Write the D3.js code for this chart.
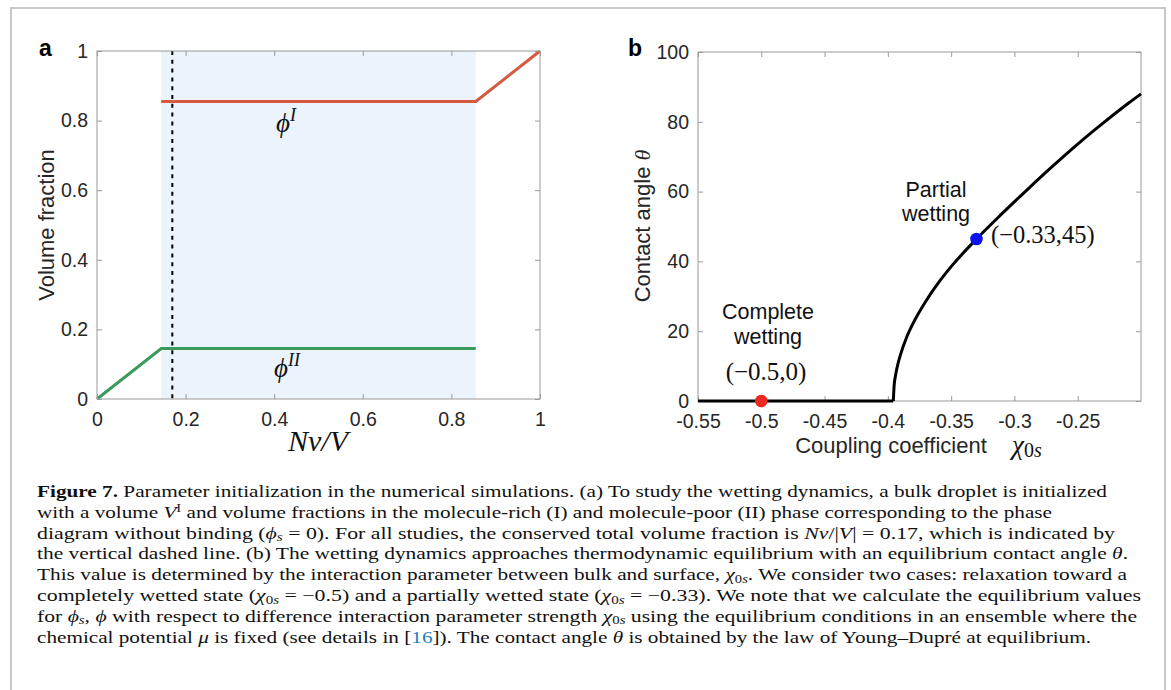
<!DOCTYPE html>
<html><head><meta charset="utf-8">
<script src="https://cdn.jsdelivr.net/npm/d3@7/dist/d3.min.js"></script>
<style>body{margin:0;background:#fff;} svg{display:block;}</style>
</head><body><svg id="c" width="1171" height="690"></svg>
<script>
// ---------- data: panel a ----------
const aTicks = [0, 0.2, 0.4, 0.6, 0.8, 1];
const aTickLabels = ["0", "0.2", "0.4", "0.6", "0.8", "1"];
const phiIx = [0.145, 0.855, 1];
const phiIy = [0.855, 0.855, 1];
const phiIIx = [0, 0.145, 0.855];
const phiIIy = [0, 0.145, 0.145];
const shadeRange = [0.145, 0.855];
const totalFraction = 0.17;

// ---------- data: panel b ----------
const bXTicks = [-0.55, -0.5, -0.45, -0.4, -0.35, -0.3, -0.25];
const bXTickLabels = ["-0.55", "-0.5", "-0.45", "-0.4", "-0.35", "-0.3", "-0.25"];
const bYTicks = [0, 20, 40, 60, 80, 100];
const chiFlat = [-0.55, -0.3957];
const thetaFlat = [0, 0];
const chiRise = [-0.3957, -0.395, -0.394, -0.392, -0.39, -0.385, -0.38, -0.37, -0.36, -0.35, -0.33, -0.31, -0.29, -0.27, -0.25, -0.23, -0.21, -0.2];
const thetaRise = [0, 4.6, 7.2, 10.7, 13.3, 18.4, 22.3, 28.6, 33.9, 38.5, 46.4, 53.6, 60.5, 67.2, 73.6, 79.6, 85.3, 88.0];
const markerChi = [-0.5, -0.33];
const markerTheta = [0, 46.4];
const markerColors = ["#ea2a1f", "#0a12f2"];

// ---------- caption ----------
const captionLines = [
  [["Figure 7.", "b"], [" Parameter initialization in the numerical simulations. (a) To study the wetting dynamics, a bulk droplet is initialized"]],
  [["with a volume "], ["V", "i"], ["I", "sup"], [" and volume fractions in the molecule-rich (I) and molecule-poor (II) phase corresponding to the phase"]],
  [["diagram without binding ("], ["ϕ", "i"], ["s", "subi"], [" = 0). For all studies, the conserved total volume fraction is "], ["Nν", "i"], ["/|"], ["V", "i"], ["| = 0.17, which is indicated by"]],
  [["the vertical dashed line. (b) The wetting dynamics approaches thermodynamic equilibrium with an equilibrium contact angle "], ["θ", "i"], ["."]],
  [["This value is determined by the interaction parameter between bulk and surface, "], ["χ", "i"], ["0", "sub"], ["s", "subi"], [". We consider two cases: relaxation toward a"]],
  [["completely wetted state ("], ["χ", "i"], ["0", "sub"], ["s", "subi"], [" = −0.5) and a partially wetted state ("], ["χ", "i"], ["0", "sub"], ["s", "subi"], [" = −0.33). We note that we calculate the equilibrium values"]],
  [["for "], ["ϕ", "i"], ["s", "subi"], [", "], ["ϕ", "i"], [" with respect to difference interaction parameter strength "], ["χ", "i"], ["0", "sub"], ["s", "subi"], [" using the equilibrium conditions in an ensemble where the"]],
  [["chemical potential "], ["μ", "i"], [" is fixed (see details in ["], ["16", "link"], ["]). The contact angle "], ["θ", "i"], [" is obtained by the law of Young–Dupré at equilibrium."]]
];
const captionEnds = [1107, 1052, 1115, 1128, 1127, 1141, 1137, 1091];

// ---------- drawing ----------
const svg = d3.select("#c");
const SANS = "Liberation Sans, Arial, Helvetica, sans-serif";
const SERIF = "Liberation Serif, Times New Roman, serif";
const TICKC = "#262626";
const BOXC = "#9a9a9a";

svg.append("rect").attr("x", 0).attr("y", 0).attr("width", 1171).attr("height", 690).attr("fill", "#fff");
svg.append("rect").attr("x", 11).attr("y", 8).attr("width", 1154).attr("height", 720)
  .attr("fill", "#fff").attr("stroke", "#c9c9c9").attr("stroke-width", 2);

function drawAxes(g, x, y, xt, xl, yt, yl) {
  const [x0, x1] = x.range(), [y0, y1] = y.range();
  const style = sel => {
    sel.select(".domain").remove();
    sel.selectAll(".tick line").attr("stroke", BOXC).attr("stroke-width", 1);
    sel.selectAll(".tick text").attr("fill", TICKC).attr("font-family", SANS).attr("font-size", 19.5);
  };
  g.append("g").attr("transform", `translate(0,${y0})`)
    .call(d3.axisBottom(x).tickValues(xt).tickFormat((d, i) => xl[i]).tickSizeInner(-5).tickSizeOuter(0).tickPadding(13)).call(style);
  g.append("g").attr("transform", `translate(0,${y1})`)
    .call(d3.axisTop(x).tickValues(xt).tickFormat("").tickSizeInner(-5).tickSizeOuter(0)).call(style);
  g.append("g").attr("transform", `translate(${x0},0)`)
    .call(d3.axisLeft(y).tickValues(yt).tickFormat((d, i) => yl[i]).tickSizeInner(-5).tickSizeOuter(0).tickPadding(9)).call(style);
  g.append("g").attr("transform", `translate(${x1},0)`)
    .call(d3.axisRight(y).tickValues(yt).tickFormat("").tickSizeInner(-5).tickSizeOuter(0)).call(style);
  g.append("rect").attr("x", x0).attr("y", y1).attr("width", x1 - x0).attr("height", y0 - y1)
    .attr("fill", "none").attr("stroke", BOXC).attr("stroke-width", 1);
}

// ----- panel a -----
const xa = d3.scaleLinear().domain([0, 1]).range([97, 540]);
const ya = d3.scaleLinear().domain([0, 1]).range([399, 51]);
const ga = svg.append("g");
ga.append("rect").attr("x", xa(shadeRange[0])).attr("y", ya(1))
  .attr("width", xa(shadeRange[1]) - xa(shadeRange[0])).attr("height", ya(0) - ya(1)).attr("fill", "#ebf3fd");
const lineA = d3.line().x(d => xa(d[0])).y(d => ya(d[1]));
ga.append("path").attr("d", lineA(d3.zip(phiIx, phiIy))).attr("fill", "none").attr("stroke", "#d4593f").attr("stroke-width", 3);
ga.append("path").attr("d", lineA(d3.zip(phiIIx, phiIIy))).attr("fill", "none").attr("stroke", "#3c9a5c").attr("stroke-width", 3);
ga.append("line").attr("x1", xa(totalFraction)).attr("x2", xa(totalFraction)).attr("y1", ya(1)).attr("y2", ya(0))
  .attr("stroke", "#000").attr("stroke-width", 2).attr("stroke-dasharray", "4,4.8");
drawAxes(ga, xa, ya, aTicks, aTickLabels, aTicks, aTickLabels);

ga.append("text").attr("x", 39).attr("y", 56).attr("font-family", SANS).attr("font-weight", "bold").attr("font-size", 23).text("a");
ga.append("text").attr("transform", "translate(54,225) rotate(-90)").attr("text-anchor", "middle")
  .attr("font-family", SANS).attr("font-size", 22).attr("fill", TICKC).text("Volume fraction");
ga.append("text").attr("x", 318).attr("y", 451).attr("text-anchor", "middle")
  .attr("font-family", SERIF).attr("font-style", "italic").attr("font-size", 30).attr("fill", "#111").text("Nν/V");
const phi1 = ga.append("text").attr("x", 276).attr("y", 132).attr("font-family", SERIF).attr("font-style", "italic").attr("fill", "#111");
phi1.append("tspan").attr("font-size", 27).text("ϕ");
phi1.append("tspan").attr("font-size", 18).attr("dy", -11).text("I");
const phi2 = ga.append("text").attr("x", 274).attr("y", 377).attr("font-family", SERIF).attr("font-style", "italic").attr("fill", "#111");
phi2.append("tspan").attr("font-size", 27).text("ϕ");
phi2.append("tspan").attr("font-size", 18).attr("dy", -11).text("II");

// ----- panel b -----
const xb = d3.scaleLinear().domain([-0.55, -0.2]).range([698, 1141]);
const yb = d3.scaleLinear().domain([0, 100]).range([401, 52]);
const gb = svg.append("g");
drawAxes(gb, xb, yb, bXTicks, bXTickLabels, bYTicks, bYTicks.map(String));
const lineFlat = d3.line().x(d => xb(d[0])).y(d => yb(d[1]));
const lineRise = d3.line().x(d => xb(d[0])).y(d => yb(d[1])).curve(d3.curveMonotoneX);
gb.append("path").attr("d", lineFlat(d3.zip(chiFlat, thetaFlat))).attr("fill", "none").attr("stroke", "#000").attr("stroke-width", 3);
gb.append("path").attr("d", lineRise(d3.zip(chiRise, thetaRise))).attr("fill", "none").attr("stroke", "#000").attr("stroke-width", 3).attr("stroke-linejoin", "round");
gb.selectAll("circle.m").data(d3.zip(markerChi, markerTheta, markerColors)).join("circle").attr("class", "m")
  .attr("cx", d => xb(d[0])).attr("cy", d => yb(d[1])).attr("r", 6.3).attr("fill", d => d[2]);

gb.append("text").attr("x", 628).attr("y", 56).attr("font-family", SANS).attr("font-weight", "bold").attr("font-size", 23).text("b");
const ylabB = gb.append("text").attr("transform", "translate(650,226) rotate(-90)").attr("text-anchor", "middle")
  .attr("font-family", SANS).attr("font-size", 22).attr("fill", TICKC);
ylabB.append("tspan").text("Contact angle ");
ylabB.append("tspan").attr("font-family", SERIF).attr("font-style", "italic").text("θ");
gb.append("text").attr("x", 891).attr("y", 453).attr("text-anchor", "middle").attr("font-family", SANS)
  .attr("font-size", 22).attr("fill", TICKC).text("Coupling coefficient");
const chiLab = gb.append("text").attr("x", 1012).attr("y", 454).attr("font-family", SERIF).attr("font-style", "italic").attr("fill", "#111");
chiLab.append("tspan").attr("font-size", 27).text("χ");
chiLab.append("tspan").attr("font-size", 20).attr("font-style", "normal").attr("dy", 3).text("0");
chiLab.append("tspan").attr("font-size", 20).text("s");

const annS = (x, y, t) => gb.append("text").attr("x", x).attr("y", y).attr("text-anchor", "middle")
  .attr("font-family", SANS).attr("font-size", 21.5).attr("fill", "#111").text(t);
annS(936, 197, "Partial");
annS(936, 221, "wetting");
annS(768, 319, "Complete");
annS(768, 344, "wetting");
gb.append("text").attr("x", 991).attr("y", 243).attr("font-family", SERIF).attr("font-size", 24.5).attr("fill", "#111").text("(−0.33,45)");
gb.append("text").attr("x", 766).attr("y", 380).attr("text-anchor", "middle").attr("font-family", SERIF).attr("font-size", 25).attr("fill", "#111").text("(−0.5,0)");

// ----- caption -----
const cap = svg.append("g").attr("font-family", SERIF).attr("font-size", 17.5).attr("fill", "#111");
const shifts = { sub: 2.5, subi: 2.5, sup: -6 };
captionLines.forEach((segs, li) => {
  const t = cap.append("text").attr("x", 37).attr("y", 497 + li * 20.8)
    .attr("textLength", captionEnds[li] - 37).attr("lengthAdjust", "spacingAndGlyphs");
  let cur = 0;
  segs.forEach(([s, st]) => {
    const target = shifts[st] || 0;
    const ts = t.append("tspan").text(s);
    if (target !== cur) { ts.attr("dy", target - cur); cur = target; }
    if (st === "b") ts.attr("font-weight", "bold");
    if (st === "i" || st === "subi") ts.attr("font-style", "italic");
    if (st === "sub" || st === "subi" || st === "sup") ts.attr("font-size", 12);
    if (st === "link") ts.attr("fill", "#1f7fc0");
  });
});
</script></body></html>
